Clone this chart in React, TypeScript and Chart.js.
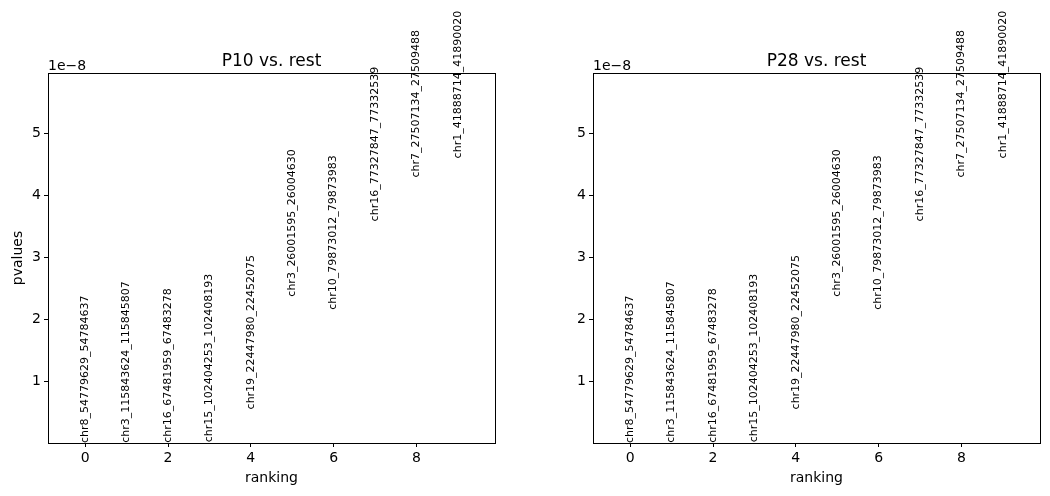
import React, { useEffect, useRef } from "react";
import { Chart, registerables } from "chart.js";

Chart.register(...registerables);

const genes = [
  "chr8_54779629_54784637",
  "chr3_115843624_115845807",
  "chr16_67481959_67483278",
  "chr15_102404253_102408193",
  "chr19_22447980_22452075",
  "chr3_26001595_26004630",
  "chr10_79873012_79873983",
  "chr16_77327847_77332539",
  "chr7_27507134_27509488",
  "chr1_41888714_41890020",
];

const p10Values = [0.001e-8, 0.004e-8, 0.006e-8, 0.013e-8, 0.543e-8, 2.363e-8, 2.152e-8, 3.578e-8, 4.287e-8, 4.595e-8];
const p28Values = [0.001e-8, 0.004e-8, 0.006e-8, 0.013e-8, 0.543e-8, 2.363e-8, 2.152e-8, 3.578e-8, 4.287e-8, 4.595e-8];

const xTicks = [0, 2, 4, 6, 8];
const yTicks = [1e-8, 2e-8, 3e-8, 4e-8, 5e-8];

const FONT = "'DejaVu Sans', sans-serif";

function makeChart(canvas: HTMLCanvasElement, title: string, values: number[], showYLabel: boolean, padRight: number) {
  const vmin = Math.min(...values);
  const vmax = Math.max(...values);
  const ymax = vmax + 0.3 * (vmax - vmin);

  const overlay = {
    id: "overlay",
    afterDraw(chart: any) {
      const ctx = chart.ctx;
      const a = chart.chartArea;
      const xs = chart.scales.x;
      const ys = chart.scales.y;
      ctx.save();
      // frame
      ctx.strokeStyle = "#000";
      ctx.lineWidth = 1;
      ctx.strokeRect(Math.round(a.left) + 0.5, Math.round(a.top) + 0.5, Math.round(a.right - a.left), Math.round(a.bottom - a.top));
      ctx.fillStyle = "#000";
      // title
      ctx.font = `17px ${FONT}`;
      ctx.textAlign = "center";
      ctx.textBaseline = "alphabetic";
      ctx.fillText(title, (a.left + a.right) / 2, a.top - 7.5);
      // offset text
      ctx.font = `14px ${FONT}`;
      ctx.textAlign = "left";
      ctx.fillText("1e\u22128", a.left, a.top - 3.5);
      // x label
      ctx.textAlign = "center";
      ctx.fillText("ranking", (a.left + a.right) / 2, 482);
      // y label
      if (showYLabel) {
        ctx.save();
        ctx.translate(22, (a.top + a.bottom) / 2);
        ctx.rotate(-Math.PI / 2);
        ctx.textAlign = "center";
        ctx.textBaseline = "alphabetic";
        ctx.fillText("pvalues", 0, 0);
        ctx.restore();
      }
      // gene labels
      ctx.font = `11px ${FONT}`;
      const ds = chart.data.datasets[0].data as any[];
      ds.forEach((p: any, i: number) => {
        const px = xs.getPixelForValue(p.x);
        const py = ys.getPixelForValue(p.y);
        ctx.save();
        ctx.translate(px, py);
        ctx.rotate(-Math.PI / 2);
        ctx.textAlign = "left";
        ctx.textBaseline = "middle";
        ctx.fillText(genes[i], 0, 0);
        ctx.restore();
      });
      ctx.restore();
    },
  };

  return new Chart(canvas, {
    type: "scatter",
    data: {
      datasets: [
        {
          data: values.map((v, i) => ({ x: i, y: v })),
          pointRadius: 0,
          pointHoverRadius: 0,
          showLine: false,
        },
      ],
    },
    options: {
      responsive: false,
      animation: false,
      devicePixelRatio: 1,
      layout: { padding: { top: 73, right: padRight, left: 0, bottom: 0 } },
      plugins: { legend: { display: false }, tooltip: { enabled: false }, title: { display: false } },
      scales: {
        x: {
          type: "linear",
          min: -0.9,
          max: 9.9,
          afterBuildTicks: (s: any) => {
            s.ticks = xTicks.map((v) => ({ value: v }));
          },
          afterFit: (s: any) => {
            s.height = 53;
          },
          grid: { display: true, drawOnChartArea: false, drawTicks: true, tickLength: 4, tickColor: "#000", tickWidth: 1 },
          border: { display: false },
          ticks: { color: "#000", font: { family: FONT, size: 14 }, padding: 3, maxRotation: 0, autoSkip: false },
        },
        y: {
          type: "linear",
          min: vmin,
          max: ymax,
          afterBuildTicks: (s: any) => {
            s.ticks = yTicks.map((v) => ({ value: v }));
          },
          afterFit: (s: any) => {
            s.width = 48;
          },
          grid: { display: true, drawOnChartArea: false, drawTicks: true, tickLength: 4, tickColor: "#000", tickWidth: 1 },
          border: { display: false },
          ticks: {
            color: "#000",
            font: { family: FONT, size: 14 },
            padding: 3,
            autoSkip: false,
            callback: (v: any) => String(Math.round(Number(v) / 1e-8)),
          },
        },
      },
    },
    plugins: [overlay],
  });
}

export default function App() {
  const ref1 = useRef<HTMLCanvasElement>(null);
  const ref2 = useRef<HTMLCanvasElement>(null);

  useEffect(() => {
    const c1 = makeChart(ref1.current!, "P10 vs. rest", p10Values, true, 30);
    const c2 = makeChart(ref2.current!, "P28 vs. rest", p28Values, false, 10);
    return () => {
      c1.destroy();
      c2.destroy();
    };
  }, []);

  return (
    <div style={{ position: "absolute", left: 0, top: 0, width: 1050, height: 496, background: "#fff" }}>
      <canvas ref={ref1} width={525} height={496} style={{ position: "absolute", left: 0, top: 0, display: "block" }} />
      <canvas ref={ref2} width={505} height={496} style={{ position: "absolute", left: 545, top: 0, display: "block" }} />
    </div>
  );
}
